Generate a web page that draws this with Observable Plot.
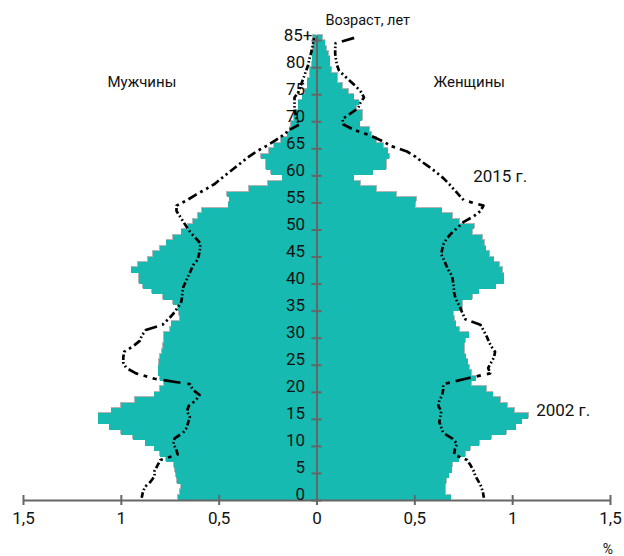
<!DOCTYPE html>
<html><head><meta charset="utf-8">
<script src="https://cdn.jsdelivr.net/npm/d3@7"></script>
<script src="https://cdn.jsdelivr.net/npm/@observablehq/plot@0.6"></script>
<style>body{margin:0;background:#fff}</style>
</head><body><div id="chart"></div>
<script>
// Age in single years, 0 … 85+ ; values are % of total population
const ages = d3.range(0, 86);
const ageLabels = ["0","5","10","15","20","25","30","35","40","45","50","55","60","65","70","75","80","85+"];
const ageTicks = d3.range(0, 86, 5);
const xTicks = [-1.5, -1, -0.5, 0, 0.5, 1, 1.5];

// 2002, bars
const male2002 = [
  0.71, 0.70, 0.695, 0.715, 0.72, 0.725, 0.73, 0.77, 0.80, 0.83,
  0.875, 0.94, 1.0, 1.06, 1.116, 1.116, 1.05, 1.0, 0.93, 0.83,
  0.80, 0.78, 0.80, 0.81, 0.81, 0.805, 0.80, 0.79, 0.785, 0.78,
  0.78, 0.75, 0.743, 0.70, 0.705, 0.71, 0.734, 0.785, 0.841, 0.887,
  0.909, 0.909, 0.947, 0.913, 0.862, 0.836, 0.802, 0.768, 0.734, 0.692,
  0.658, 0.633, 0.607, 0.587, 0.45, 0.445, 0.458, 0.345, 0.25, 0.175,
  0.234, 0.26, 0.26, 0.285, 0.245, 0.219, 0.183, 0.149, 0.14, 0.132,
  0.117, 0.117, 0.092, 0.092, 0.073, 0.06, 0.047, 0.047, 0.035, 0.035,
  0.025, 0.022, 0.022, 0.02, 0.02, 0.02
];
const female2002 = [
  0.687, 0.658, 0.658, 0.662, 0.675, 0.69, 0.695, 0.726, 0.76, 0.785,
  0.832, 0.894, 0.97, 1.018, 1.048, 1.082, 1.01, 0.975, 0.94, 0.9,
  0.868, 0.79, 0.814, 0.79, 0.78, 0.772, 0.763, 0.755, 0.755, 0.76,
  0.777, 0.73, 0.712, 0.704, 0.699, 0.746, 0.746, 0.797, 0.828, 0.916,
  0.958, 0.958, 0.95, 0.933, 0.907, 0.882, 0.865, 0.857, 0.848, 0.797,
  0.806, 0.73, 0.695, 0.641, 0.505, 0.51, 0.407, 0.305, 0.224, 0.19,
  0.288, 0.356, 0.356, 0.373, 0.365, 0.34, 0.305, 0.28, 0.27, 0.22,
  0.234, 0.234, 0.204, 0.217, 0.19, 0.161, 0.132, 0.105, 0.105, 0.076,
  0.068, 0.068, 0.059, 0.05, 0.042, 0.03
];
// 2015, lines
const male2015 = [
  0.896, 0.89, 0.88, 0.85, 0.83, 0.83, 0.815, 0.80, 0.712, 0.72,
  0.734, 0.728, 0.685, 0.665, 0.658, 0.65, 0.665, 0.655, 0.62, 0.60,
  0.635, 0.65, 0.83, 0.925, 0.975, 0.99, 0.99, 0.985, 0.94, 0.906,
  0.895, 0.875, 0.79, 0.76, 0.735, 0.715, 0.695, 0.69, 0.688, 0.683,
  0.67, 0.658, 0.645, 0.633, 0.61, 0.603, 0.598, 0.596, 0.62, 0.645,
  0.665, 0.683, 0.70, 0.718, 0.718, 0.665, 0.62, 0.57, 0.523, 0.49,
  0.455, 0.42, 0.385, 0.35, 0.31, 0.26, 0.215, 0.175, 0.14, 0.09,
  0.105, 0.11, 0.115, 0.115, 0.115, 0.095, 0.085, 0.075, 0.065, 0.055,
  0.045, 0.04, 0.032, 0.025, 0.02, 0.015
];
const female2015 = [
  0.853, 0.848, 0.84, 0.826, 0.81, 0.80, 0.785, 0.767, 0.70, 0.705,
  0.716, 0.69, 0.645, 0.635, 0.625, 0.63, 0.635, 0.62, 0.625, 0.64,
  0.645, 0.645, 0.76, 0.885, 0.875, 0.89, 0.905, 0.91, 0.89, 0.877,
  0.865, 0.85, 0.835, 0.758, 0.745, 0.733, 0.72, 0.707, 0.70, 0.699,
  0.695, 0.69, 0.673, 0.66, 0.648, 0.635, 0.64, 0.648, 0.665, 0.69,
  0.72, 0.75, 0.8, 0.835, 0.851, 0.75, 0.725, 0.70, 0.675, 0.648,
  0.615, 0.58, 0.54, 0.505, 0.46, 0.38, 0.33, 0.27, 0.19, 0.135,
  0.13, 0.17, 0.21, 0.222, 0.24, 0.225, 0.2, 0.17, 0.14, 0.112,
  0.102, 0.097, 0.093, 0.093, 0.095, 0.19
];

const labels = [
  {text: "Мужчины", x: -0.895, y: 77.3, anchor: "middle", size: 15},
  {text: "Женщины", x: 0.778, y: 77.3, anchor: "middle", size: 15},
  {text: "2015 г.", x: 0.798, y: 59.9, anchor: "start", size: 17},
  {text: "2002 г.", x: 1.12, y: 16.6, anchor: "start", size: 17},
  {text: "Возраст, лет", x: 0.043, y: 88.7, anchor: "start", size: 14.5},
  {text: "%", x: 1.487, y: -9.0, anchor: "middle", size: 14}
];

const teal = "#17bab0";
const grey = "#666666";
const bars = ages.map((a, i) => ({age: a, m: male2002[i], f: female2002[i]}));

// dash-dot-dot pattern, measured in a horizontally compressed space
function dashRows(values, sign) {
  const pattern = [5.5, 2.2, 1.5, 2.2, 1.5, 2.2];
  const sx = 196 / 3.5, sy = 5.41;
  const pts = ages.map((a, i) => ({x: sign * values[i], y: a + 0.5}));
  const lerp = (a, b, t) => ({x: a.x + (b.x - a.x) * t, y: a.y + (b.y - a.y) * t});
  const out = [];
  let id = 0, cur = null, k = 0, rem = pattern[0];
  for (let i = 0; i < pts.length - 1; i++) {
    const a = pts[i], b = pts[i + 1];
    const len = Math.hypot((b.x - a.x) * sx, (b.y - a.y) * sy);
    if (!(len > 0)) continue;
    let t = 0;
    while (len - t > 1e-9) {
      const step = Math.min(rem, len - t);
      const on = k % 2 === 0;
      if (on) {
        if (!cur) cur = {id: id++, pts: [lerp(a, b, t / len)]};
        cur.pts.push(lerp(a, b, (t + step) / len));
      }
      t += step;
      rem -= step;
      if (rem <= 1e-9) {
        if (cur) { out.push(cur); cur = null; }
        k = (k + 1) % pattern.length;
        rem = pattern[k];
      }
    }
  }
  if (cur) out.push(cur);
  return out.flatMap(d => d.pts.map(p => ({id: d.id, x: p.x, y: p.y})));
}

const fmt = d => String(Math.abs(d)).replace(".", ",");

const chart = Plot.plot({
  width: 624, height: 556,
  marginLeft: 23, marginRight: 14, marginTop: 34.7, marginBottom: 56,
  x: {domain: [-1.5, 1.5], axis: null},
  y: {domain: [0, 86], axis: null},
  style: {fontFamily: "Roboto, 'Liberation Sans', sans-serif", background: "#fff", color: "#111", overflow: "visible"},
  marks: [
    // bar shadows
    Plot.rect(bars, {x1: d => -d.m, x2: 0, y1: "age", y2: d => d.age + 1, fill: "#b4b4b4", dx: -0.5, dy: -1, shapeRendering: "crispEdges"}),
    Plot.rect(bars, {x1: 0, x2: "f", y1: "age", y2: d => d.age + 1, fill: "#b4b4b4", dx: 0.5, dy: -1, shapeRendering: "crispEdges"}),
    // 2002 bars
    Plot.rect(bars, {x1: d => -d.m, x2: 0, y1: "age", y2: d => d.age + 1, fill: teal, shapeRendering: "crispEdges"}),
    Plot.rect(bars, {x1: 0, x2: "f", y1: "age", y2: d => d.age + 1, fill: teal, shapeRendering: "crispEdges"}),
    // axes
    Plot.ruleY([0], {x1: -1.5, x2: 1.5, stroke: grey, strokeWidth: 2}),
    Plot.ruleX(xTicks, {x: d => d, y1: -0.92, y2: 0.92, stroke: grey, strokeWidth: 2}),
    Plot.ruleX([0], {y1: 0, y2: 85.8, stroke: grey, strokeWidth: 2}),
    Plot.ruleY(ageTicks, {y: d => d, x1: -0.026, x2: 0.026, stroke: grey, strokeWidth: 2}),
    // tick labels
    Plot.text(xTicks, {x: d => d, y: 0, text: fmt, dy: 18, fontSize: 17, fill: "#111"}),
    Plot.text(ageTicks.slice(0, -1), {x: 0, y: d => d, text: (d, i) => ageLabels[i], textAnchor: "end", dx: -12, dy: -5.5, fontSize: 17, fill: "#111"}),
    Plot.text([85], {x: 0, y: d => d, text: () => ageLabels[ageLabels.length - 1], textAnchor: "end", dx: -4.5, dy: -5, fontSize: 17, fill: "#111"}),
    // 2015 lines
    Plot.line(dashRows(male2015, -1), {x: "x", y: "y", z: "id", stroke: "#000", strokeWidth: 2.7, strokeLinecap: "butt"}),
    Plot.line(dashRows(female2015, 1), {x: "x", y: "y", z: "id", stroke: "#000", strokeWidth: 2.7, strokeLinecap: "butt"}),
    // annotations
    ...labels.map(l => Plot.text([l], {x: "x", y: "y", text: "text", textAnchor: l.anchor, fontSize: l.size, fill: "#111"}))
  ]
});
document.getElementById("chart").append(chart);
</script>
</body></html>
